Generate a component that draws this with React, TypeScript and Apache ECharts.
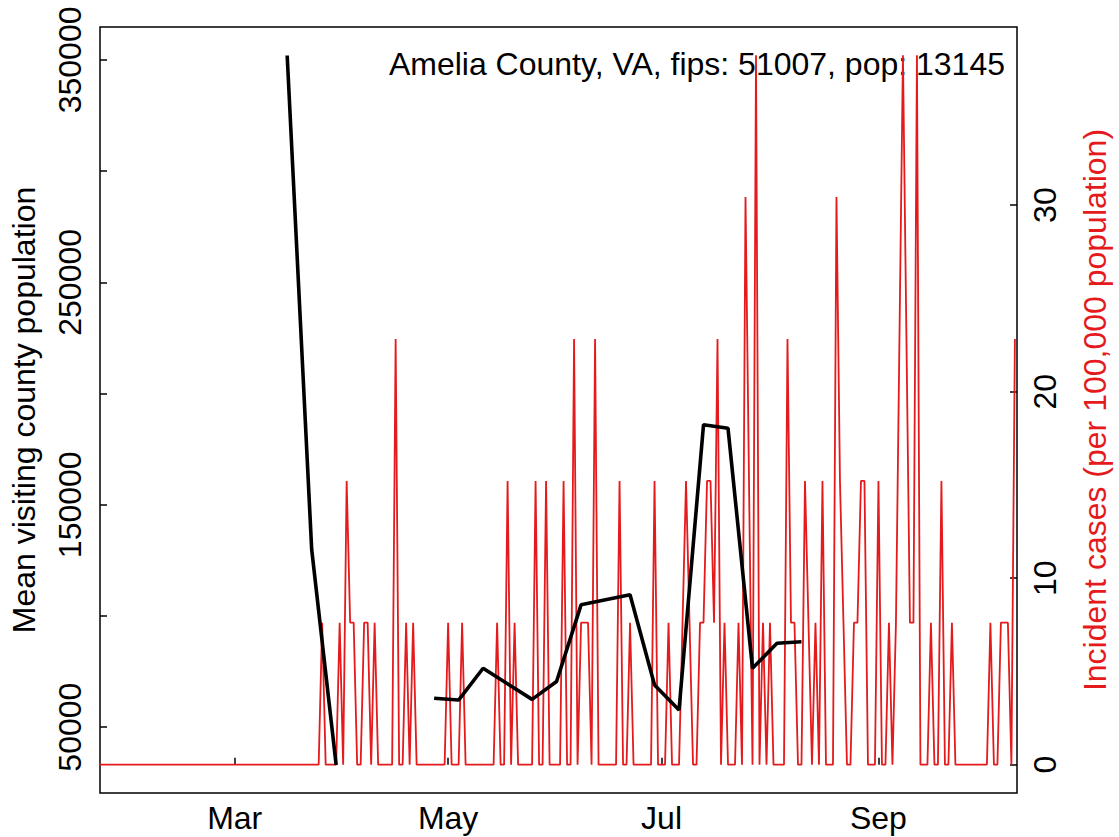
import React, { useEffect, useRef } from 'react';
import * as echarts from 'echarts';

// ---------- DATA ----------
// Daily incident cases per 100,000 population, starting 2020-01-22
const caseStartDate = '2020-01-22';
const incidentRate: number[] = [
  0, 0, 0, 0, 0, 0, 0, 0, 0, 0,
  0, 0, 0, 0, 0, 0, 0, 0, 0, 0,
  0, 0, 0, 0, 0, 0, 0, 0, 0, 0,
  0, 0, 0, 0, 0, 0, 0, 0, 0, 0,
  0, 0, 0, 0, 0, 0, 0, 0, 0, 0,
  0, 0, 0, 0, 0, 0, 0, 0, 0, 0,
  0, 0, 0, 0, 7.61, 0, 0, 0, 0, 7.61,
  0, 15.21, 7.61, 7.61, 0, 0, 7.61, 7.61, 0, 7.61,
  0, 0, 0, 0, 0, 22.82, 0, 0, 7.61, 0,
  7.61, 0, 0, 0, 0, 0, 0, 0, 0, 0,
  7.61, 0, 0, 0, 7.61, 0, 0, 0, 0, 0,
  0, 0, 0, 0, 7.61, 0, 0, 15.21, 0, 7.61,
  0, 0, 0, 0, 0, 15.21, 0, 0, 15.21, 0,
  0, 0, 0, 15.21, 0, 0, 22.82, 0, 7.61, 7.61,
  7.61, 0, 22.82, 0, 0, 0, 0, 0, 0, 15.21,
  0, 0, 7.61, 0, 0, 0, 0, 0, 0, 15.21,
  0, 0, 0, 7.61, 0, 0, 0, 7.61, 15.21, 7.61,
  0, 0, 7.61, 7.61, 15.21, 15.21, 7.61, 22.82, 0, 7.61,
  0, 0, 0, 7.61, 0, 30.43, 15.21, 0, 38.04, 0,
  7.61, 0, 7.61, 0, 0, 0, 0, 22.82, 7.61, 7.61,
  0, 0, 15.21, 7.61, 0, 7.61, 0, 15.21, 0, 0,
  0, 30.43, 15.21, 7.61, 0, 0, 7.61, 7.61, 15.21, 15.21,
  0, 0, 0, 15.21, 0, 0, 7.61, 0, 7.61, 22.82,
  38.04, 22.82, 7.61, 7.61, 38.04, 0, 0, 0, 7.61, 0,
  0, 15.21, 0, 0, 7.61, 0, 0, 0, 0, 0,
  0, 0, 0, 0, 0, 7.61, 0, 0, 7.61, 7.61,
  7.61, 0, 22.82,
];

// Weekly mean visiting county population (null = missing week, breaks the line)
const mobilityDates = [
  '2020-03-16', '2020-03-23', '2020-03-30', '2020-04-06',
  '2020-04-27', '2020-05-04', '2020-05-11', '2020-05-25',
  '2020-06-01', '2020-06-08', '2020-06-22', '2020-06-29',
  '2020-07-06', '2020-07-13', '2020-07-20', '2020-07-27',
  '2020-08-03', '2020-08-10',
];
const mobilityValues: (number | null)[] = [
  352000, 130000, 33000, null,
  63000, 62200, 76500, 62500,
  70500, 105000, 109500, 69000,
  57700, 186000, 184400, 76500,
  87700, 88400,
];

const leftTickValues = [50000, 100000, 150000, 200000, 250000, 300000, 350000];
const leftLabelValues = [50000, 150000, 250000, 350000];
const rightTickValues = [0, 10, 20, 30];
const monthTickDates = ['2020-03-01', '2020-05-01', '2020-07-01', '2020-09-01'];
const monthTickLabels = ['Mar', 'May', 'Jul', 'Sep'];

const annotation = 'Amelia County, VA, fips: 51007, pop: 13145';
const leftTitle = 'Mean visiting county population';
const rightTitle = 'Incident cases (per 100,000 population)';

// ---------- helpers ----------
const DAY = 86400000;
function ts(s: string): number {
  const [y, m, d] = s.split('-').map(Number);
  return Date.UTC(y, m - 1, d);
}

const FONT = '"Liberation Sans", Arial, Helvetica, sans-serif';
const FS = 32;
const RED = '#E41A1C';

export default function App() {
  const ref = useRef<HTMLDivElement>(null);

  useEffect(() => {
    if (!ref.current) return;
    const chart = echarts.init(ref.current, undefined, { renderer: 'svg' });

    const start = ts(caseStartDate);
    const redData = incidentRate.map((v, i) => [start + i * DAY, v]);
    const blackData = mobilityDates.map((s, i) => [ts(s), mobilityValues[i]]);
    const monthTs = monthTickDates.map(ts);

    const xMin = start + 0.5 * DAY;
    const xMax = start + 262.6 * DAY;

    const option: any = {
      animation: false,
      grid: {
        left: 100, right: 99, top: 27, bottom: 44,
        show: true, borderColor: '#000', borderWidth: 1.5,
        backgroundColor: 'transparent',
      },
      xAxis: {
        type: 'value',
        min: xMin,
        max: xMax,
        axisLine: { show: false },
        splitLine: { show: false },
        axisTick: {
          show: true, inside: true, length: 7,
          lineStyle: { color: '#000', width: 1.5 },
          customValues: monthTs,
        },
        axisLabel: {
          show: true,
          customValues: monthTs,
          formatter: (v: number) => {
            const i = monthTs.findIndex((t) => Math.abs(t - v) < DAY / 2);
            return i >= 0 ? monthTickLabels[i] : '';
          },
          fontSize: FS, fontFamily: FONT, color: '#000', margin: 9,
        },
      },
      yAxis: [
        {
          type: 'value',
          position: 'left',
          min: 20400,
          max: 364800,
          name: leftTitle,
          nameLocation: 'middle',
          nameRotate: 90,
          nameGap: 60,
          nameTextStyle: { fontSize: FS, fontFamily: FONT, color: '#000' },
          axisLine: { show: false },
          splitLine: { show: false },
          axisTick: {
            show: true, inside: true, length: 7,
            lineStyle: { color: '#000', width: 1.5 },
            customValues: leftTickValues,
          },
          axisLabel: {
            show: true, rotate: 90, customValues: leftLabelValues,
            formatter: (v: number) => String(v),
            fontSize: FS, fontFamily: FONT, color: '#000', margin: 14,
          },
        },
        {
          type: 'value',
          position: 'right',
          min: -1.52,
          max: 39.55,
          name: rightTitle,
          nameLocation: 'middle',
          nameRotate: 90,
          nameGap: 62,
          nameTextStyle: { fontSize: FS, fontFamily: FONT, color: RED },
          axisLine: { show: false },
          splitLine: { show: false },
          axisTick: {
            show: true, inside: true, length: 7,
            lineStyle: { color: '#000', width: 1.5 },
            customValues: rightTickValues,
          },
          axisLabel: {
            show: true, rotate: 90, customValues: rightTickValues,
            formatter: (v: number) => String(v),
            fontSize: FS, fontFamily: FONT, color: '#000', margin: 12,
          },
        },
      ],
      graphic: [
        {
          type: 'text',
          x: 1005,
          y: 64,
          style: {
            text: annotation,
            font: `${FS}px ${FONT}`,
            fill: '#000',
            textAlign: 'right',
            textVerticalAlign: 'middle',
          },
        },
      ],
      series: [
        {
          name: 'incident',
          type: 'line',
          yAxisIndex: 1,
          data: redData,
          showSymbol: false,
          symbol: 'none',
          lineStyle: { color: RED, width: 1.8 },
          itemStyle: { color: RED },
          z: 2,
        },
        {
          name: 'mobility',
          type: 'line',
          yAxisIndex: 0,
          data: blackData,
          connectNulls: false,
          showSymbol: false,
          symbol: 'none',
          lineStyle: { color: '#000', width: 3.6 },
          itemStyle: { color: '#000' },
          z: 3,
        },
      ],
    };

    chart.setOption(option);
    return () => chart.dispose();
  }, []);

  return (
    <div
      ref={ref}
      style={{ position: 'absolute', left: 0, top: 0, width: 1119, height: 837, background: '#fff' }}
    />
  );
}
